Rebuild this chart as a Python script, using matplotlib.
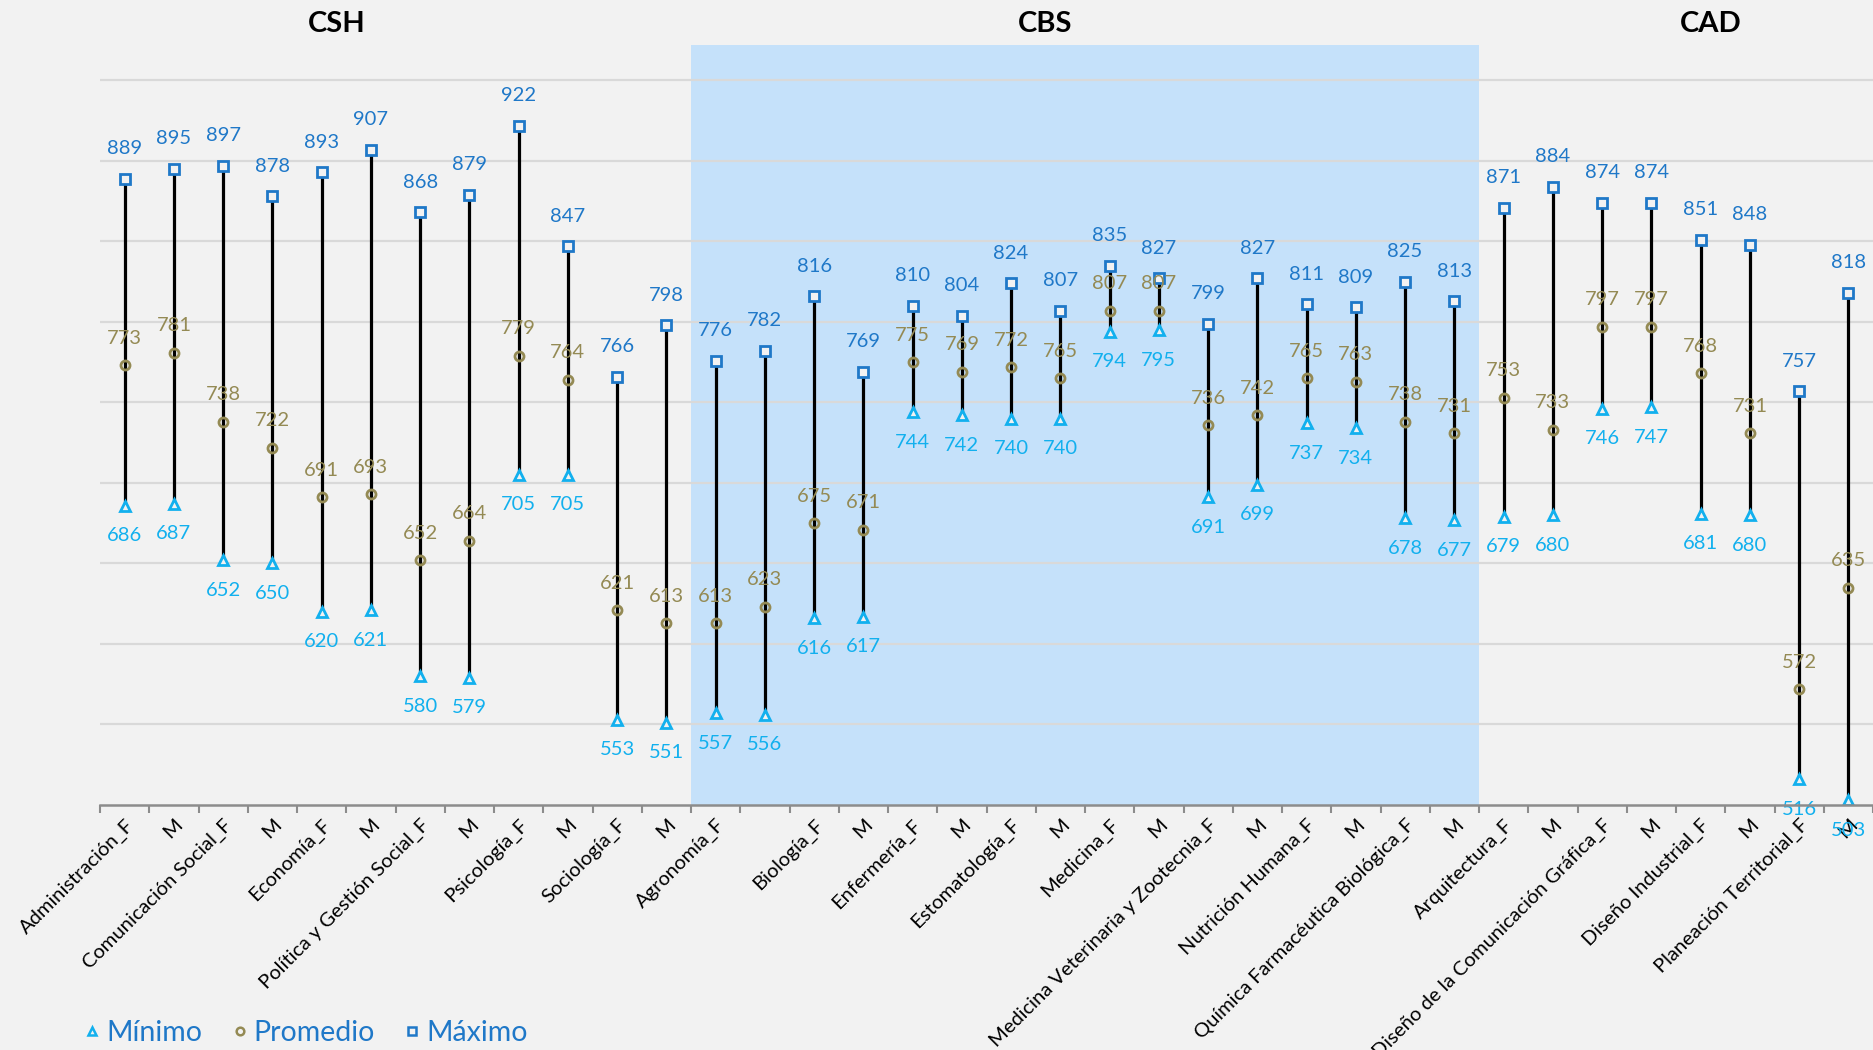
import numpy as np
import matplotlib
matplotlib.use('Agg')
import matplotlib.pyplot as plt
from matplotlib.lines import Line2D
import matplotlib.transforms as mtransforms

plt.rcParams['font.family'] = ['Lato', 'DejaVu Sans']

carreras = ['Administración_F', 'M', 'Comunicación Social_F', 'M', 'Economía_F', 'M',
            'Política y Gestión Social_F', 'M', 'Psicología_F', 'M', 'Sociología_F', 'M',
            'Agronomía_F', '', 'Biología_F', 'M', 'Enfermería_F', 'M', 'Estomatología_F', 'M',
            'Medicina_F', 'M', 'Medicina Veterinaria y Zootecnia_F', 'M', 'Nutrición Humana_F', 'M',
            'Química Farmacéutica Biológica_F', 'M', 'Arquitectura_F', 'M',
            'Diseño de la Comunicación Gráfica_F', 'M', 'Diseño Industrial_F', 'M',
            'Planeación Territorial_F', 'M']
maximo = [889, 895, 897, 878, 893, 907, 868, 879, 922, 847, 766, 798,
          776, 782, 816, 769, 810, 804, 824, 807, 835, 827, 799, 827, 811, 809, 825, 813,
          871, 884, 874, 874, 851, 848, 757, 818]
promedio = [773, 781, 738, 722, 691, 693, 652, 664, 779, 764, 621, 613,
            613, 623, 675, 671, 775, 769, 772, 765, 807, 807, 736, 742, 765, 763, 738, 731,
            753, 733, 797, 797, 768, 731, 572, 635]
minimo = [686, 687, 652, 650, 620, 621, 580, 579, 705, 705, 553, 551,
          557, 556, 616, 617, 744, 742, 740, 740, 794, 795, 691, 699, 737, 734, 678, 677,
          679, 680, 746, 747, 681, 680, 516, 503]
divisiones = ['CSH', 'CBS', 'CAD']
div_pos = [4.3, 18.7, 32.2]

c_max = '#1F78C8'
c_min = '#12B0EE'
c_prom = '#948A54'
bg = '#F2F2F2'

x = np.arange(len(carreras))

fig = plt.figure(figsize=(18.73, 10.5), dpi=100)
fig.patch.set_facecolor(bg)
ax = fig.add_axes([100 / 1873, 1 - 805 / 1050, 1 - 100 / 1873, (805 - 45) / 1050])
ax.set_facecolor(bg)

# sombreado de CBS
ax.axvspan(11.5, 27.5, color='#C5E1FA', zorder=0, lw=0)
for g in range(550, 1000, 50):
    ax.axhline(g, color='#D9D9D9', lw=1.6, zorder=1)

ax.vlines(x, minimo, maximo, color='black', lw=2.3, zorder=2)
ax.plot(x, maximo, 's', ms=7, mfc=bg, mec=c_max, mew=2, ls='none', zorder=3)
ax.plot(x, promedio, 'o', ms=6.5, mfc='none', mec=c_prom, mew=2, ls='none', zorder=3)
ax.plot(x, minimo, '^', ms=7, mfc=bg, mec=c_min, mew=2, ls='none', zorder=3)

for i in range(len(x)):
    ax.annotate(str(maximo[i]), (x[i], maximo[i]), xytext=(0, 30), textcoords='offset pixels',
                ha='center', va='center', fontsize=14.5, color=c_max, zorder=4)
    ax.annotate(str(promedio[i]), (x[i], promedio[i]), xytext=(0, 27), textcoords='offset pixels',
                ha='center', va='center', fontsize=14.5, color=c_prom, zorder=4)
    ax.annotate(str(minimo[i]), (x[i], minimo[i]), xytext=(0, -30), textcoords='offset pixels',
                ha='center', va='center', fontsize=14.5, color=c_min, zorder=4)

ax.set_xlim(-0.5, len(x) - 0.5)
ax.set_ylim(500, 972)
for s in ['top', 'right', 'left']:
    ax.spines[s].set_visible(False)
ax.spines['bottom'].set_color('#8C8C8C')
ax.spines['bottom'].set_linewidth(1.8)
ax.spines['bottom'].set_zorder(5)
ax.set_yticks([])
ax.set_xticks(x)
ax.set_xticklabels(carreras, rotation=45, ha='right', rotation_mode='anchor', fontsize=14.5)
ax.tick_params(axis='x', which='major', length=0, pad=8)
ax.set_xticks(np.arange(-0.5, len(x), 1), minor=True)
ax.tick_params(axis='x', which='minor', length=6, width=1.5, color='#8C8C8C')

trans = mtransforms.blended_transform_factory(ax.transData, fig.transFigure)
for nombre, p in zip(divisiones, div_pos):
    ax.text(p, 1 - 24 / 1050, nombre, transform=trans, ha='center', va='center',
            fontsize=21, fontweight='bold', color='black')

handles = [Line2D([], [], marker='^', ls='none', ms=6, mfc=bg, mec=c_min, mew=1.8),
           Line2D([], [], marker='o', ls='none', ms=5.5, mfc='none', mec=c_prom, mew=1.8),
           Line2D([], [], marker='s', ls='none', ms=6, mfc=bg, mec=c_max, mew=1.8)]
fig.legend(handles, ['Mínimo', 'Promedio', 'Máximo'], loc='center left',
           bbox_to_anchor=(0.028, 1 - 1033 / 1050), ncol=3, frameon=False, fontsize=20.5,
           labelcolor=c_max, handletextpad=0.0, columnspacing=0.8, handlelength=1.0)

fig.savefig('out.png', dpi=100, facecolor=bg)
